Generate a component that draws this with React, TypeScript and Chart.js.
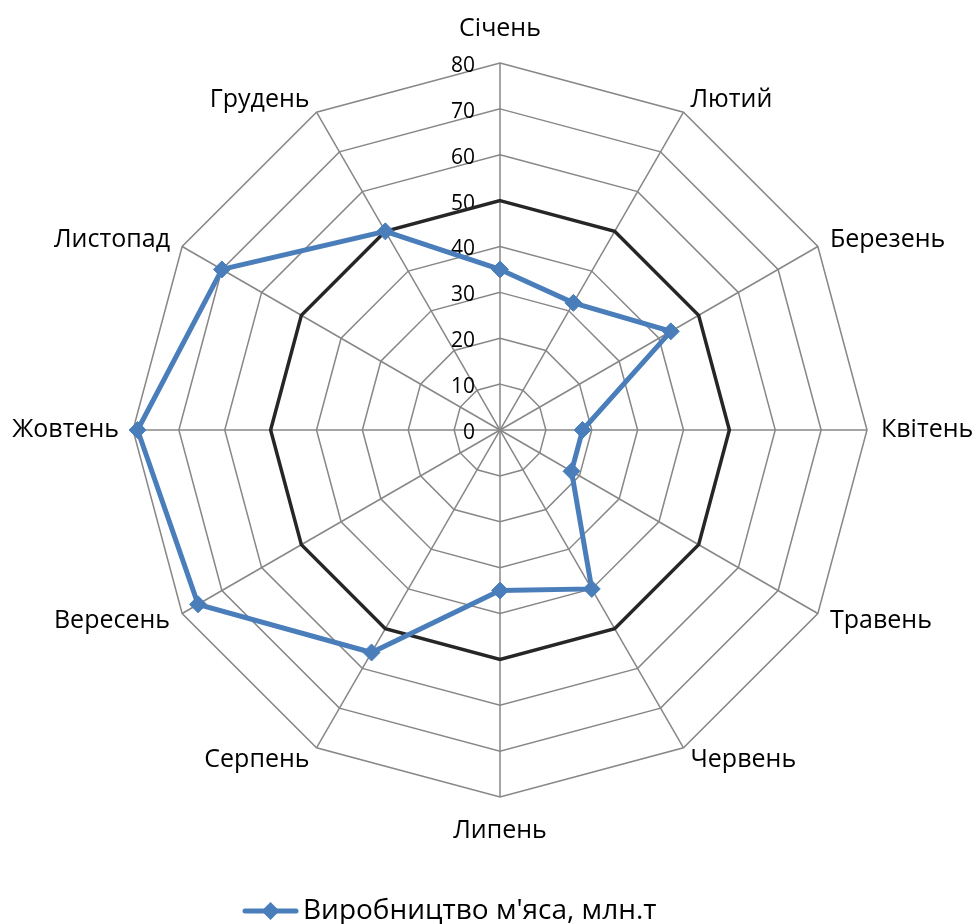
import React, { useEffect, useRef } from "react";
import { Chart, registerables } from "chart.js";

Chart.register(...registerables);

const months = [
  "Січень", "Лютий", "Березень", "Квітень", "Травень", "Червень",
  "Липень", "Серпень", "Вересень", "Жовтень", "Листопад", "Грудень",
];
const meatProduction = [35, 32, 43, 18, 18, 40, 35, 56, 76, 79, 70, 50];
const referenceLevel = [50, 50, 50, 50, 50, 50, 50, 50, 50, 50, 50, 50];
const tickValues = [0, 10, 20, 30, 40, 50, 60, 70, 80];
const seriesName = "Виробництво м'яса, млн.т";
const referenceName = "Рівень 50";

const BLUE = "#4A7EBB";
const DARK = "#262626";
const GRID = "#878787";
const FONT = "'Open Sans'";

// legend marker geometry
const ICON_STYLE_WIDTH = 112;
const ICON_W = 136;
const ICON_H = 24;

function makeLegendIcon(): HTMLCanvasElement {
  const c = document.createElement("canvas");
  c.width = ICON_W;
  c.height = ICON_H;
  const g = c.getContext("2d")!;
  const mid = ICON_H / 2;
  const start = ICON_W / 2 + 12;
  const end = ICON_W / 2 + 63;
  g.strokeStyle = BLUE;
  g.lineWidth = 5;
  g.lineCap = "round";
  g.beginPath();
  g.moveTo(start, mid);
  g.lineTo(end, mid);
  g.stroke();
  const cx = (start + end) / 2;
  g.fillStyle = BLUE;
  g.beginPath();
  g.moveTo(cx, mid - 9);
  g.lineTo(cx + 9, mid);
  g.lineTo(cx, mid + 9);
  g.lineTo(cx - 9, mid);
  g.closePath();
  g.fill();
  return c;
}

const excelLabels = {
  id: "excelLabels",
  beforeDatasetsDraw(chart: any) {
    const s = chart.scales.r;
    const ctx = chart.ctx;
    ctx.save();
    ctx.font = `21px ${FONT}`;
    ctx.fillStyle = "#000";
    ctx.textAlign = "right";
    ctx.textBaseline = "middle";
    tickValues.forEach((v) => {
      const y = s.yCenter - s.getDistanceFromCenterForValue(v);
      ctx.fillText(String(v), s.xCenter - 25, y + 3);
    });
    ctx.restore();
  },
  afterDraw(chart: any) {
    const s = chart.scales.r;
    const ctx = chart.ctx;
    ctx.save();
    ctx.font = `25px ${FONT}`;
    ctx.fillStyle = "#000";
    ctx.textBaseline = "middle";
    const r = s.drawingArea + 14;
    months.forEach((m, i) => {
      const p = s.getPointPosition(i, r);
      const dx = p.x - s.xCenter;
      let y = p.y;
      let align: CanvasTextAlign = "center";
      if (Math.abs(dx) < 1) {
        y += p.y < s.yCenter ? -20 : 20;
      } else {
        align = dx > 0 ? "left" : "right";
      }
      ctx.textAlign = align;
      ctx.fillText(m, p.x, y);
    });
    ctx.restore();
  },
};

export default function App() {
  const ref = useRef<HTMLCanvasElement>(null);

  useEffect(() => {
    if (!ref.current) return;
    const icon = makeLegendIcon();
    const chart = new Chart(ref.current, {
      type: "radar",
      data: {
        labels: months,
        datasets: [
          {
            label: seriesName,
            data: meatProduction,
            borderColor: BLUE,
            backgroundColor: "transparent",
            borderWidth: 5,
            fill: false,
            pointStyle: "rectRot",
            pointRadius: 8.5,
            pointBorderWidth: 1,
            pointBackgroundColor: BLUE,
            pointBorderColor: BLUE,
          },
          {
            label: referenceName,
            data: referenceLevel,
            borderColor: DARK,
            backgroundColor: "transparent",
            borderWidth: 3.5,
            fill: false,
            pointRadius: 0,
          },
        ],
      },
      options: {
        responsive: false,
        animation: false,
        layout: { padding: { left: 125, right: 107, top: 0, bottom: 0 } },
        elements: { line: { tension: 0 } },
        scales: {
          r: {
            min: 0,
            max: 80,
            beginAtZero: true,
            ticks: { stepSize: 10, display: false },
            pointLabels: { display: false },
            grid: { color: GRID, lineWidth: 1.5, circular: false },
            angleLines: { color: GRID, lineWidth: 1.5 },
          },
        },
        plugins: {
          tooltip: { enabled: false },
          legend: {
            display: true,
            position: "bottom",
            align: "start",
            labels: {
              usePointStyle: true,
              pointStyle: icon as any,
              pointStyleWidth: ICON_STYLE_WIDTH,
              padding: 44,
              color: "#000",
              font: { family: FONT, size: 28 },
              filter: (item: any) => item.datasetIndex === 0,
            },
          },
        },
      },
      plugins: [excelLabels],
    });
    return () => chart.destroy();
  }, []);

  return (
    <div
      style={{
        position: "fixed",
        left: 8,
        top: 8,
        width: 967,
        height: 916,
        overflow: "hidden",
        background: "#fff",
      }}
    >
      <canvas ref={ref} width={967} height={927} style={{ display: "block" }} />
    </div>
  );
}
